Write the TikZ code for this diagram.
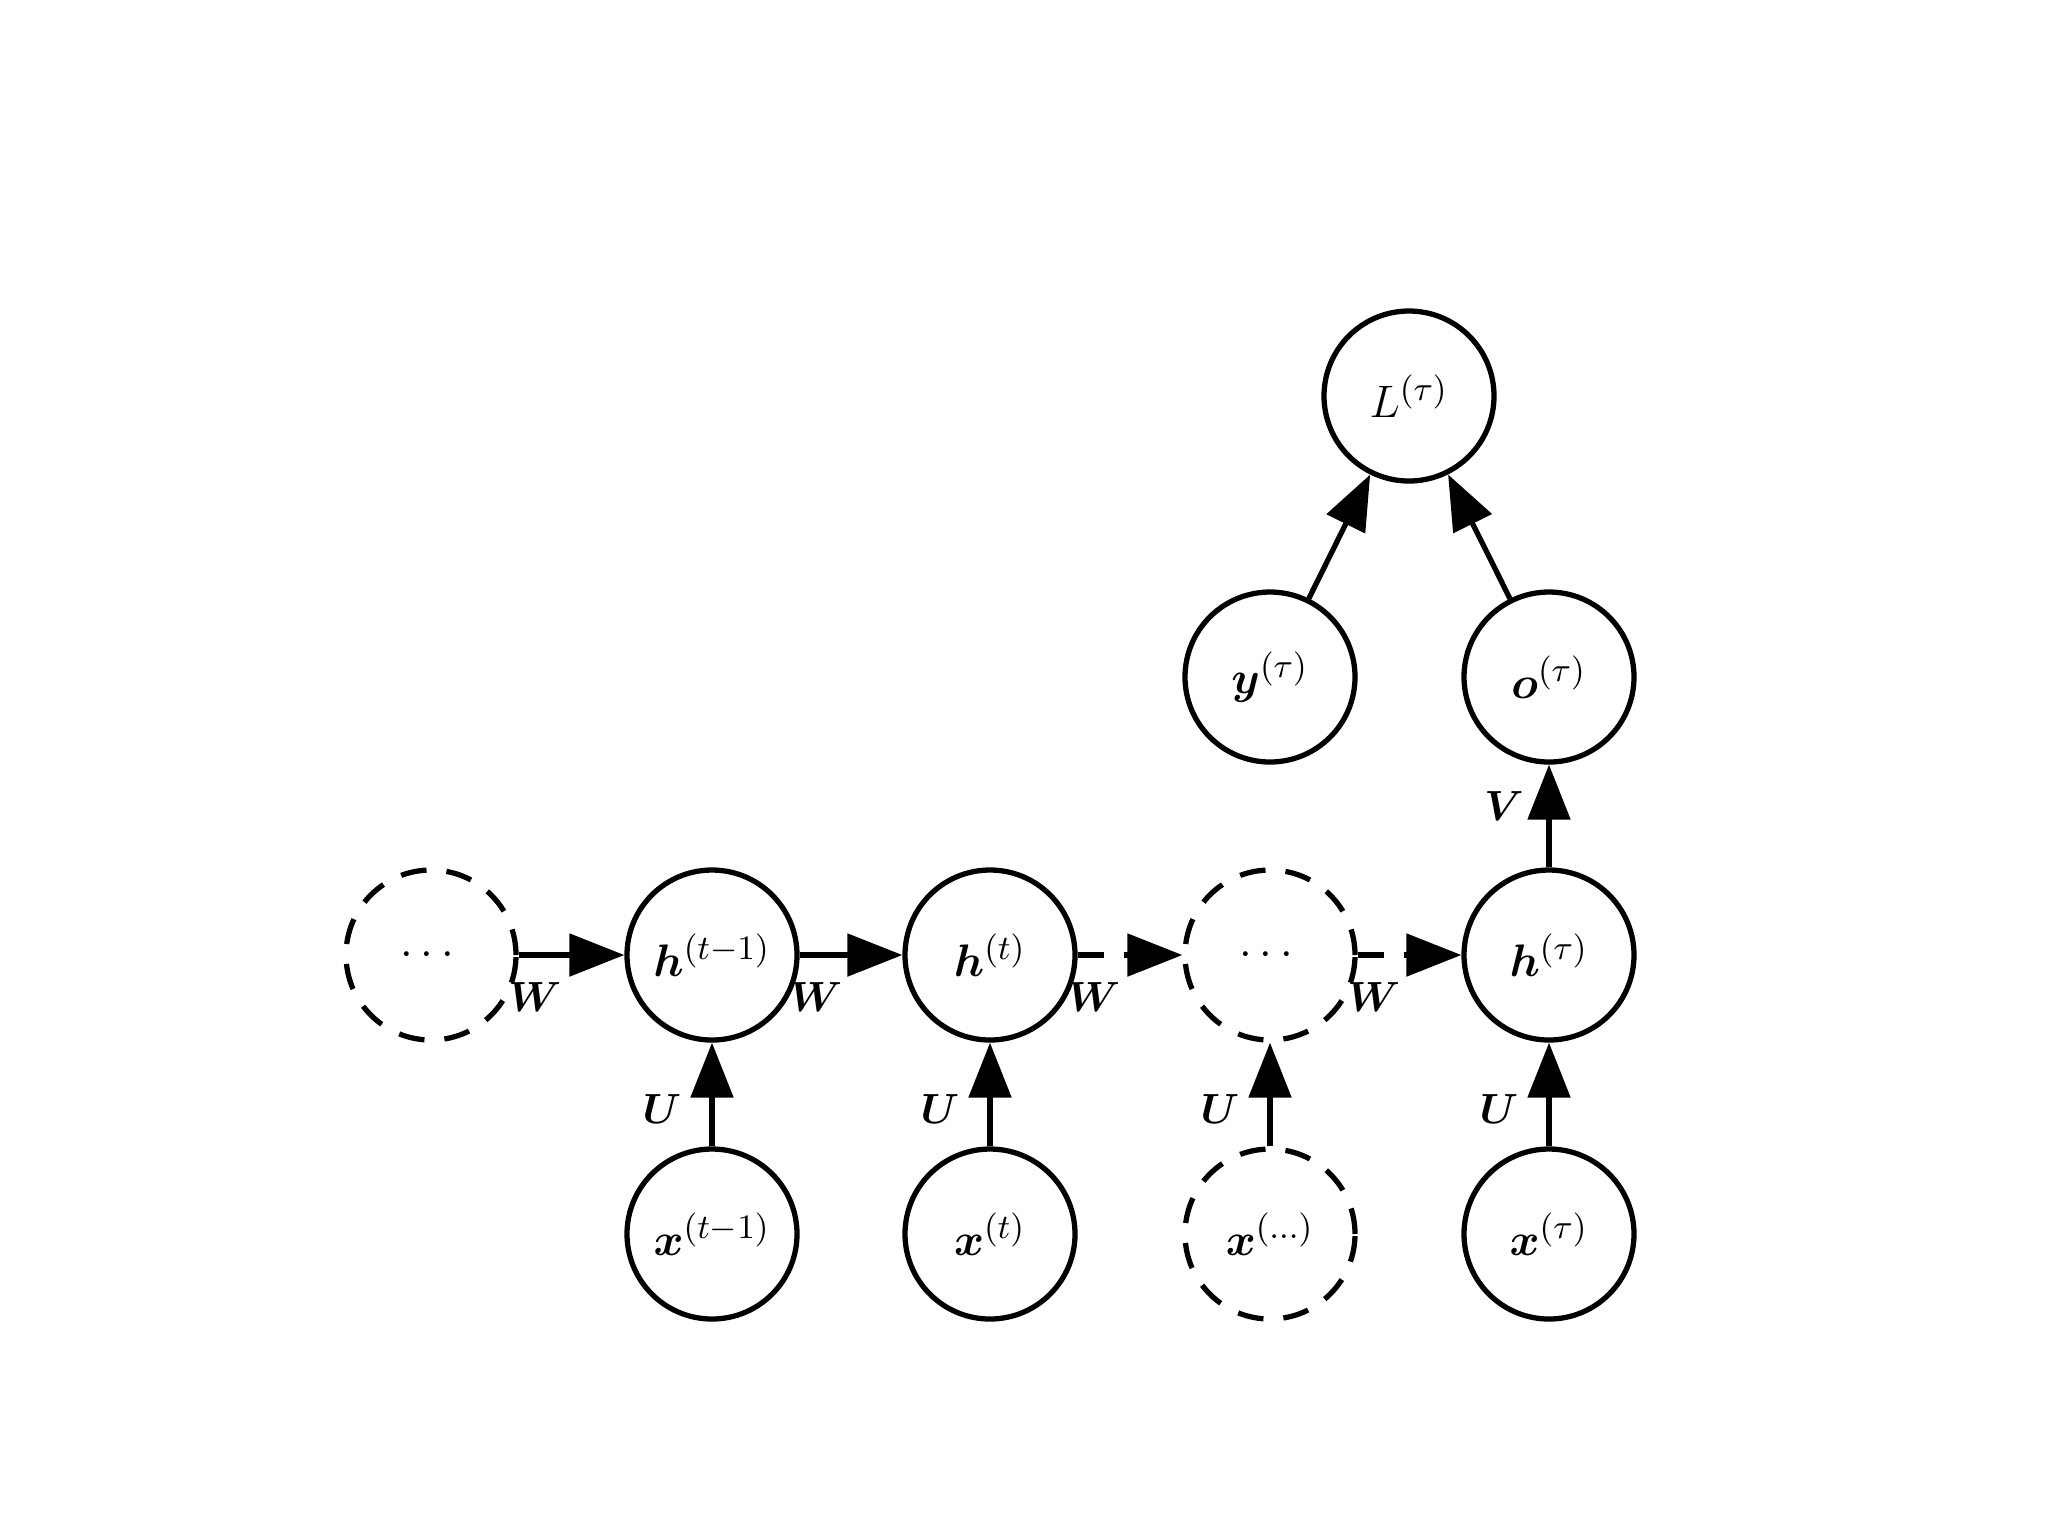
\documentclass[tikz,border=0pt]{standalone}
\usepackage{amsmath,bm}
\DeclareMathSizes{12}{12}{9}{7}
\usetikzlibrary{arrows.meta}
\newcommand{\bigtxt}[1]{\scalebox{1.08}{#1}}
\tikzset{
  unit/.style={circle, draw=black, line width=1.5pt, minimum size=17mm, inner sep=0pt, font=\fontsize{12}{14}\selectfont},
  ghost/.style={unit, dash pattern=on 2.6mm off 2.0mm},
  arr/.style={line width=1.5pt, -{Triangle[length=5.5mm,width=4.2mm]}},
  darr/.style={arr, dash pattern=on 2.6mm off 2.0mm},
  wlab/.style={pos=0, anchor=north west, inner sep=0pt, yshift=-2.5mm, xshift=-1.3mm, font=\fontsize{12}{14}\selectfont},
  vlab/.style={inner sep=0pt, font=\fontsize{12}{14}\selectfont}
}
\begin{document}
\begin{tikzpicture}[x=0.1mm,y=-0.1mm]
\useasboundingbox[fill=white] (0,0) rectangle (2048,1536);
% hidden row
\node[ghost] (d1) at (431,955) {\bigtxt{$\cdots$}};
\node[unit] (h1) at (712,955) {\bigtxt{$\bm{h}^{(t-1)}$}};
\node[unit] (h2) at (990,955) {\bigtxt{$\bm{h}^{(t)}$}};
\node[ghost] (d2) at (1270,955) {\bigtxt{$\cdots$}};
\node[unit] (h3) at (1549,955) {\bigtxt{$\bm{h}^{(\tau)}$}};
% inputs
\node[unit] (x1) at (712,1234) {\bigtxt{$\bm{x}^{(t-1)}$}};
\node[unit] (x2) at (990,1234) {\bigtxt{$\bm{x}^{(t)}$}};
\node[ghost] (x3) at (1270,1234) {\bigtxt{$\bm{x}^{(\ldots)}$}};
\node[unit] (x4) at (1549,1234) {\bigtxt{$\bm{x}^{(\tau)}$}};
% top
\node[unit] (o) at (1549,677) {\bigtxt{$\bm{o}^{(\tau)}$}};
\node[unit] (y) at (1270,677) {\bigtxt{$\bm{y}^{(\tau)}$}};
\node[unit] (L) at (1409,396) {\bigtxt{$L^{(\tau)}$}};
% recurrent connections
\draw[arr] (d1) -- node[wlab] {$\bm{W}$} (h1);
\draw[arr] (h1) -- node[wlab] {$\bm{W}$} (h2);
\draw[darr] (h2) -- node[wlab] {$\bm{W}$} (d2);
\draw[darr] (d2) -- node[wlab] {$\bm{W}$} (h3);
% input connections
\draw[arr] (x1) -- node[vlab, pos=0.36, xshift=-5mm] {$\bm{U}$} (h1);
\draw[arr] (x2) -- node[vlab, pos=0.36, xshift=-5mm] {$\bm{U}$} (h2);
\draw[arr] (x3) -- node[vlab, pos=0.36, xshift=-5mm] {$\bm{U}$} (d2);
\draw[arr] (x4) -- node[vlab, pos=0.36, xshift=-5mm] {$\bm{U}$} (h3);
% output
\draw[arr] (h3) -- node[vlab, pos=0.6, xshift=-4.5mm] {$\bm{V}$} (o);
\draw[arr] (y) -- (L);
\draw[arr] (o) -- (L);
\end{tikzpicture}
\end{document}
